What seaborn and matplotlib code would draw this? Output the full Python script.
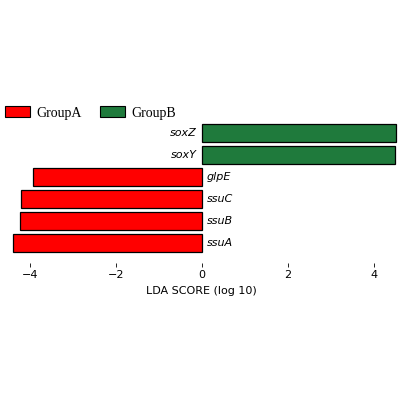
import matplotlib

matplotlib.use("Agg", force=True)
import matplotlib.pyplot as plt
import matplotlib.patches as mpatches
import pandas as pd
import seaborn as sns

sns.set_style("white")
plt.rcParams["text.color"] = "black"
plt.rcParams["xtick.color"] = "black"
plt.rcParams["axes.labelcolor"] = "black"

genes = ["soxZ", "soxY", "glpE", "ssuC", "ssuB", "ssuA"]
scores = [4.52, 4.50, -3.94, -4.22, -4.24, -4.41]
groups = ["GroupB", "GroupB", "GroupA", "GroupA", "GroupA", "GroupA"]
group_names = ["GroupA", "GroupB"]
group_colors = {"GroupA": "#ff0000", "GroupB": "#1f7a3c"}
xticks = [-4, -2, 0, 2, 4]

df = pd.DataFrame({"gene": genes, "score": scores, "group": groups})

fig = plt.figure(figsize=(4, 4), dpi=100)
ax = fig.add_axes([0.0125, 0.3425, 0.9825, 0.3575])

sns.barplot(
    data=df,
    x="score",
    y="gene",
    hue="group",
    order=genes,
    hue_order=group_names,
    palette=group_colors,
    saturation=1,
    dodge=False,
    width=0.82,
    edgecolor="black",
    linewidth=0.9,
    legend=False,
    ax=ax,
)

# gene names sit on the opposite side of zero from the bar
for i, (g, s) in enumerate(zip(genes, scores)):
    if s > 0:
        ax.text(-0.12, i, g, ha="right", va="center", fontsize=8, style="italic")
    else:
        ax.text(0.12, i, g, ha="left", va="center", fontsize=8, style="italic")

ax.set_xlim(-4.59, 4.57)
ax.set_ylim(5.91, -0.59)
ax.set_xticks(xticks)
ax.set_xticklabels([f"{t:g}".replace("-", "\u2212") for t in xticks], fontsize=8)
ax.set_yticks([])
ax.set_ylabel("")
ax.set_xlabel("LDA SCORE (log 10)", fontsize=8, labelpad=4)
ax.tick_params(axis="x", bottom=True, length=3, width=0.6, pad=2)
for sp in ax.spines.values():
    sp.set_visible(False)

handles = [
    mpatches.Patch(facecolor=group_colors[g], edgecolor="black", linewidth=0.8, label=g)
    for g in group_names
]
fig.legend(
    handles=handles,
    loc="center left",
    bbox_to_anchor=(0.0125, 0.7175),
    ncol=2,
    frameon=False,
    prop={"family": "Liberation Serif", "size": 10},
    handlelength=1.8,
    handleheight=0.85,
    handletextpad=0.45,
    columnspacing=1.35,
    borderaxespad=0,
    borderpad=0,
)

fig.savefig("out.png", dpi=100)
